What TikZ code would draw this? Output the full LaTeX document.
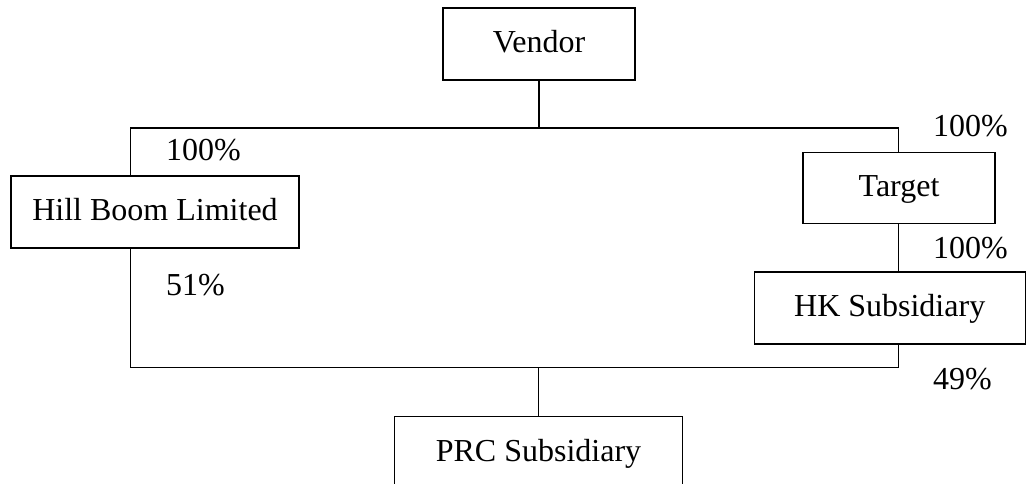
\documentclass[tikz,border=0pt]{standalone}
\usepackage{fontspec}
\setmainfont{Liberation Serif}
\begin{document}
\begin{tikzpicture}[x=1pt,y=-1pt,
  entity/.style={draw, line width=1.2pt, rectangle, inner sep=0pt,
    minimum height=72pt, font=\fontsize{32}{38}\selectfont,
    text height=22pt, text depth=5pt},
  share/.style={anchor=west, inner sep=0pt, font=\fontsize{32}{38}\selectfont},
  link/.style={line width=1.2pt}]
\useasboundingbox (0,0) rectangle (1029,483);
\clip (0,0) rectangle (1029,483);

% ownership entities
\node[entity, minimum width=192pt] (vendor) at (539,44) {Vendor};
\node[entity, minimum width=288pt] (hill) at (155,212) {Hill Boom Limited};
\node[entity, minimum width=192pt, minimum height=71pt] (target) at (899,188.3) {Target};
\node[entity, minimum width=271pt] (hk) at (889.7,308) {HK Subsidiary};
\node[entity, minimum width=288pt] (prc) at (538.5,452.7) {PRC Subsidiary};

% corner points of the connecting bus lines
\coordinate (tl) at (130.7,128);
\coordinate (tr) at (898.7,128);
\coordinate (bl) at (130.7,367.7);
\coordinate (br) at (898.7,367.7);

% connectors
\draw[link] (vendor.south) -- (vendor.south |- tl);
\draw[link] (tl |- hill.north) -- (tl) -- (tr) -- (tr |- target.north);
\draw[link] (target.south -| tr) -- (tr |- hk.north);
\draw[link] (bl |- hill.south) -- (bl) -- (br) -- (br |- hk.south);
\draw[link] (prc.north) -- (prc.north |- bl);

% shareholding percentages
\node[share] (p1) at (166,150) {100\%};
\node[share] (p2) at (166,285) {51\%};
\node[share] (p3) at (933,126) {100\%};
\node[share] (p4) at (933,248) {100\%};
\node[share] (p5) at (933,379) {49\%};
\end{tikzpicture}
\end{document}
